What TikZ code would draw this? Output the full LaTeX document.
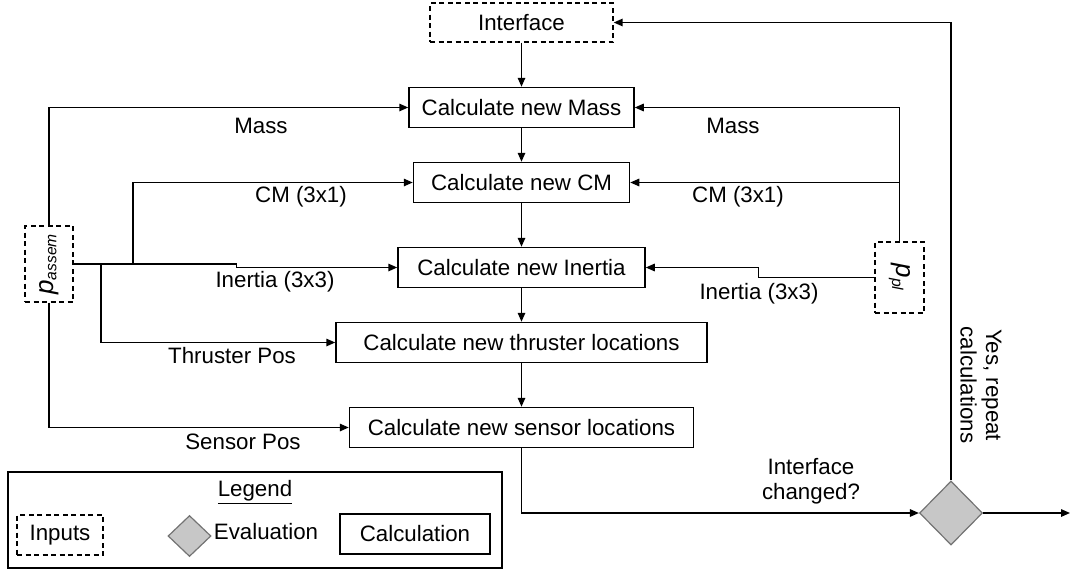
\documentclass[tikz,border=0pt]{standalone}
\usepackage{fontspec}
\setmainfont{Liberation Sans}
\usetikzlibrary{arrows.meta,shapes.geometric}
\newcommand{\diagfont}{\fontsize{22.3}{25.5}\selectfont}
\begin{document}
\begin{tikzpicture}[x=1pt,y=-1pt,
  font=\diagfont,
  calcbox/.style={draw, line width=1.5pt, minimum height=40, inner sep=0pt},
  inbox/.style={draw, line width=1.4pt, dash pattern=on 5pt off 3.5pt, inner sep=0pt},
  evalbox/.style={diamond, aspect=1, draw=black!55, line width=1.2pt, fill=black!22, inner sep=0pt},
  lbl/.style={inner sep=0pt, align=center},
  arr/.style={line width=1.5pt, -{Triangle[length=9pt,width=7.5pt]}}]
\useasboundingbox (0,0) rectangle (1071,571);

% inputs
\node[inbox, minimum width=183, minimum height=39] (iface) at (521.5,22.5) {Interface};
\node[inbox, minimum width=48, minimum height=76] (pas) at (49,264)
  {\rotatebox{90}{{\fontsize{26}{28}\selectfont\textit{p}}\textsubscript{\textit{assem}}}};
\node[inbox, minimum width=49, minimum height=71] (ppl) at (899.5,277.5)
  {\rotatebox{-90}{{\fontsize{26}{28}\selectfont\textit{p}}\textsubscript{\textit{pl}}}};

% calculation chain
\node[calcbox, minimum width=225] (mass) at (521.5,107.5) {Calculate new Mass};
\node[calcbox, minimum width=216] (cm) at (521.5,182.5) {Calculate new CM};
\node[calcbox, minimum width=247] (inertia) at (521.5,267.5) {Calculate new Inertia};
\node[calcbox, minimum width=371] (thr) at (521.5,342.5) {Calculate new thruster locations};
\node[calcbox, minimum width=344] (sen) at (521.5,427.5) {Calculate new sensor locations};

% evaluation
\node[evalbox, minimum width=63, minimum height=64] (dec) at (951,513) {};
\coordinate (exit) at (1070,513);

% main chain
\draw[arr] (iface) -- (mass);
\draw[arr] (mass) -- (cm);
\draw[arr] (cm) -- (inertia);
\draw[arr] (inertia) -- (thr);
\draw[arr] (thr) -- (sen);
\draw[arr] (sen.south) |- (dec.west);
\draw[arr] (dec.east) -- (exit);
\draw[arr] (dec.north) |- (iface.east);

% assembly properties
\coordinate (bcm) at (133,264);
\coordinate (bthr) at (101,264);
\draw[arr] (pas.north) |- (mass.west);
\draw[arr] (pas.east) -- ++(163,0) |- (inertia.west);
\draw[arr] (bcm) |- (cm.west);
\draw[arr] (bthr) |- (thr.west);
\draw[arr] (pas.south) |- (sen.west);

% payload properties
\draw[arr] (ppl.north) |- (mass.east);
\draw[arr] (ppl.north |- cm.east) -- (cm.east);
\draw[arr] (ppl.west) -- ++(-116,0) |- (inertia.east);

% connector labels
\node[lbl] (lmassl) at (261,126) {Mass};
\node[lbl] (lcml) at (301,197) {CM (3x1)};
\node[lbl] (linl) at (275,282) {Inertia (3x3)};
\node[lbl] (lthr) at (232,356) {Thruster Pos};
\node[lbl] (lsen) at (243,442) {Sensor Pos};
\node[lbl] (lmassr) at (733,126) {Mass};
\node[lbl] (lcmr) at (738,197) {CM (3x1)};
\node[lbl] (linr) at (759,294) {Inertia (3x3)};
\node[lbl] (lchg) at (811,481) {Interface\\changed?};
\node[lbl, rotate=-90] (lyes) at (981,385) {Yes, repeat\\calculations};

% legend
\node[draw, line width=1.5pt, minimum width=494, minimum height=96, inner sep=0pt] (legend) at (255,520) {};
\node[lbl] (legtitle) at (255,492) {\underline{Legend}};
\node[inbox, minimum width=86, minimum height=40] (leginp) at (60,535) {Inputs};
\node[evalbox, minimum width=43, minimum height=41] (legdia) at (189.5,536) {};
\node[lbl] (legeval) at (266,532) {Evaluation};
\node[calcbox, minimum width=150, minimum height=40] (legcalc) at (415,534) {Calculation};
\end{tikzpicture}
\end{document}
